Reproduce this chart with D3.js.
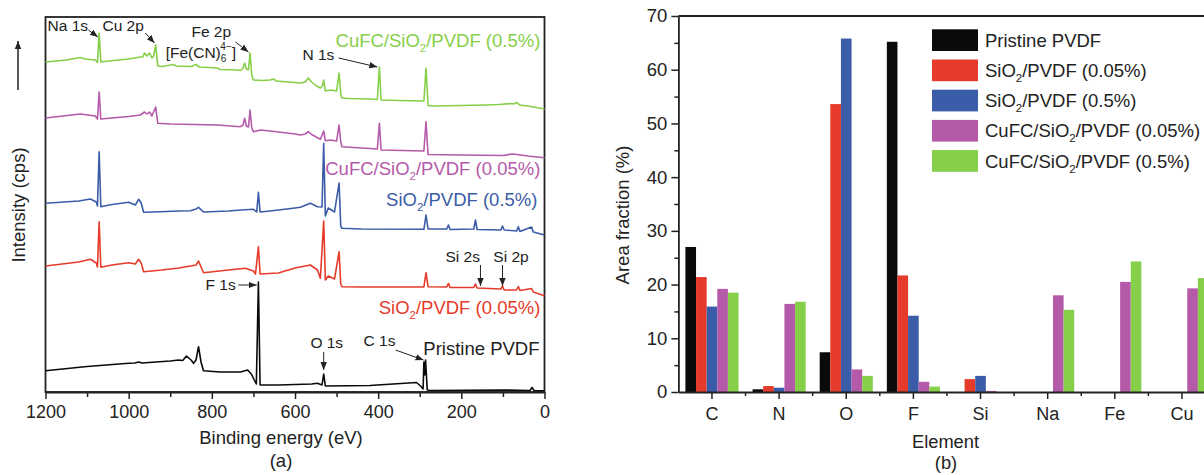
<!DOCTYPE html>
<html>
<head>
<meta charset="utf-8">
<script src="https://cdn.jsdelivr.net/npm/d3@7"></script>
<style>
  body { margin: 0; background: #fff; }
  svg { font-family: "Liberation Sans", Arial, sans-serif; }
</style>
</head>
<body>
<svg id="chart" width="1204" height="475"></svg>
<script>
// ---- panel (a): XPS survey spectra, [binding energy (eV), intensity (a.u., stacked)]
var pristineSpec = [[1200,21.3],[1100,25.5],[1000,28.7],[985,29],[976,30],[968,29],[900,31],[880,32],[870,31.5],[861,36],[850,32],[844,28.7],[838,32],[832,45.3],[826,30],[820,21.3],[780,20],[731,20],[714,22],[705,18],[698,12],[693,8],[688,110],[684,7],[640,7],[560,8],[546,8.7],[535,7],[531,18],[527,6],[420,6.5],[308,9.5],[298,6],[292,3],[290,30],[288,17],[286,32],[282,2],[275,1.5],[100,2],[35,1.5],[30,4.5],[25,1.5],[0,1.3]];
var sio2LowSpec = [[1200,126],[1120,130],[1092,132.7],[1078,129],[1075,125],[1071,170.3],[1067,124.7],[1040,127],[1000,129.3],[984,128],[976,132.7],[970,129],[964,120.3],[920,122],[880,124],[851,126],[838,127],[832,131],[820,119.3],[760,122],[719,123.7],[700,121],[695,118],[688,145.3],[684,118],[640,119],[600,124],[563,127],[546,122],[539,113.7],[531,171],[527,112],[520,116],[505,113],[494,140.3],[490,108],[487,105.3],[440,105],[290,105],[285,119.3],[280,105.3],[235,105],[231,108.7],[227,104.5],[170,104.5],[166,108],[162,104],[105,103],[101,106],[97,102],[67,102],[63,105.5],[59,101.5],[31,103.5],[27,100],[0,96.3]];
var sio2HighSpec = [[1200,188.7],[1120,191],[1092,193],[1078,190],[1075,186],[1071,240.3],[1067,185.3],[1040,187.5],[1000,189.7],[984,187],[976,192.7],[970,189],[964,179.7],[940,180],[880,181],[851,181.3],[838,183],[832,184.7],[820,180],[760,181],[730,182],[700,182.7],[692,180],[688,199.7],[684,180],[660,181],[600,184],[587,184.7],[563,188.7],[546,185.3],[535,185],[531,248.7],[527,176],[520,184],[505,180],[494,209],[490,166],[487,163.7],[440,163],[290,162.7],[285,177],[280,163],[235,163],[231,167],[227,162.5],[170,163],[166,172],[162,162.5],[105,162],[101,166],[97,162],[67,161],[63,165.3],[59,160.5],[31,165],[27,160],[0,157]];
var cufcLowSpec = [[1200,274],[1116,278],[1080,276],[1075,273],[1071,300],[1067,273],[1000,275.5],[972,277],[962,280],[956,278],[950,280],[944,276],[935,285],[930,268.7],[900,268],[786,267],[731,265.3],[725,267],[721,273.7],[717,266],[712,265],[708,282],[704,264],[700,260.3],[683,262],[660,261],[600,258],[587,257],[575,258],[568,260.3],[560,257.5],[539,252.7],[531,261],[527,251.3],[515,252],[500,251],[494,267],[490,250],[487,245.3],[420,243.5],[402,243],[397,268.7],[393,242],[290,241],[285,270.3],[280,237.5],[200,237],[100,236.5],[78,238],[66,237.5],[40,236],[0,234.3]];
var cufcHighSpec = [[1200,330],[1150,332],[1116,334.5],[1105,333],[1080,332],[1075,329.5],[1071,359],[1067,330],[1060,330.5],[1000,333],[972,335],[966,335],[962,339],[956,336],[950,339],[944,334],[940,336],[935,347],[930,326],[920,325.5],[892,327.5],[885,326],[850,325.5],[838,327.5],[830,325],[786,324],[780,322.5],[740,322],[731,321.5],[725,324],[721,329],[717,323],[712,322],[708,339],[704,317],[700,312],[680,311.5],[660,312],[652,313],[645,311],[600,309.5],[587,309],[575,310],[568,314],[560,310],[548,306],[539,304],[534,306],[531,312],[527,301],[515,302],[500,301],[494,319],[490,298],[487,294],[470,293.5],[420,293],[402,292.5],[397,325],[393,292],[350,291.5],[290,291],[285,324],[280,286.5],[270,286],[200,286.5],[140,287],[110,287.5],[78,288.5],[74,288],[66,289.5],[60,287],[40,286],[20,284.5],[0,283]];

var energyTicks = [1200, 1000, 800, 600, 400, 200, 0];
var energyMinor = [1100, 900, 700, 500, 300, 100];

// ---- panel (b): area fraction (%) per element
var elements = ["C", "N", "O", "F", "Si", "Na", "Fe", "Cu"];
var pristineFrac = [27.0, 0.5, 7.4, 65.2, 0, 0, 0, 0];
var sio2LowFrac = [21.4, 1.1, 53.6, 21.7, 2.4, 0, 0, 0];
var sio2HighFrac = [15.9, 0.8, 65.8, 14.2, 3.0, 0, 0, 0];
var cufcLowFrac = [19.2, 16.4, 4.2, 1.9, 0.2, 18.0, 20.5, 19.3];
var cufcHighFrac = [18.5, 16.8, 3.0, 1.0, 0, 15.3, 24.3, 21.2];
var fracTicks = [0, 10, 20, 30, 40, 50, 60, 70];
var fracMinor = [5, 15, 25, 35, 45, 55, 65];

var seriesNames = ["Pristine PVDF", "SiO_2/PVDF (0.05%)", "SiO_2/PVDF (0.5%)", "CuFC/SiO_2/PVDF (0.05%)", "CuFC/SiO_2/PVDF (0.5%)"];
var colors = ["#0a0a0a", "#e63b2a", "#3b5ca8", "#b55aa9", "#86cf48"];

var svg = d3.select("#chart");
var ink = "#222";

// writes "SiO_2" as SiO with a subscript 2
function richText(t, str, size) {
    var parts = str.split("_2");
    t.append("tspan").text(parts[0]);
    if (parts.length > 1) {
        t.append("tspan").attr("font-size", size * 0.62).attr("dy", 5).text("2");
        t.append("tspan").attr("dy", -5).text(parts[1]);
    }
}

function styleAxis(size) {
    return function(g) {
        g.attr("font-family", null).attr("font-size", size);
        g.selectAll("text").attr("fill", ink);
        g.selectAll("line").attr("stroke", ink).attr("stroke-width", 1.5);
        g.select(".domain").attr("stroke", ink).attr("stroke-width", 1.8);
    };
}

svg.append("defs").append("marker")
    .attr("id", "head")
    .attr("viewBox", "0 0 10 10")
    .attr("refX", 10).attr("refY", 5)
    .attr("markerWidth", 8).attr("markerHeight", 8)
    .attr("markerUnits", "userSpaceOnUse")
    .attr("orient", "auto")
    .append("path").attr("d", "M0,1 L10,5 L0,9 Z").attr("fill", ink);

/* ================= panel (a) ================= */
var xA = d3.scaleLinear().domain([1200, 0]).range([45.5, 544.5]);
var yA = d3.scaleLinear().domain([0, 375]).range([392, 17]);

var ga = svg.append("g");

ga.append("g")
    .attr("transform", "translate(0,392)")
    .call(d3.axisBottom(xA).tickValues(energyTicks).tickFormat(d3.format("d"))
        .tickSize(7).tickSizeOuter(0).tickPadding(6))
    .call(styleAxis(18));
ga.append("g")
    .attr("transform", "translate(0,392)")
    .call(d3.axisBottom(xA).tickValues(energyMinor).tickSize(5).tickFormat(""))
    .call(styleAxis(18))
    .call(function(g) { g.select(".domain").remove(); });

ga.append("rect")
    .attr("x", xA(1200)).attr("y", yA(375))
    .attr("width", xA(0) - xA(1200)).attr("height", yA(0) - yA(375))
    .attr("fill", "none").attr("stroke", ink).attr("stroke-width", 1.8);

var line = d3.line().x(function(d) { return xA(d[0]); }).y(function(d) { return yA(d[1]); });
var spectra = [pristineSpec, sio2LowSpec, sio2HighSpec, cufcLowSpec, cufcHighSpec];
ga.selectAll(".spec")
    .data(spectra)
    .enter().append("path")
    .attr("class", "spec")
    .attr("d", line)
    .attr("fill", "none")
    .attr("stroke", function(d, i) { return colors[i]; })
    .attr("stroke-width", 1.6)
    .attr("stroke-linejoin", "round");

// series names next to the curves
var specLabelPos = [[12, 37], [10, 78], [17, 186], [10, 217], [10, 345]];
specLabelPos.forEach(function(p, i) {
    var t = ga.append("text")
        .attr("x", xA(p[0])).attr("y", yA(p[1]))
        .attr("text-anchor", "end")
        .attr("font-size", 18.5)
        .attr("fill", i == 0 ? ink : colors[i]);
    richText(t, seriesNames[i], 18.5);
});

// peak assignments
var peakLabels = [
    {text: "Na 1s", be: 1195, v: 361},
    {text: "Cu 2p", be: 1063, v: 361},
    {text: "Fe 2p", be: 849, v: 355},
    {text: "N 1s", be: 582, v: 332},
    {text: "Si 2s", be: 238, v: 130},
    {text: "Si 2p", be: 123, v: 130},
    {text: "F 1s", be: 815, v: 102},
    {text: "O 1s", be: 563, v: 44},
    {text: "C 1s", be: 435, v: 46}
];
ga.selectAll(".peak")
    .data(peakLabels)
    .enter().append("text")
    .attr("class", "peak")
    .attr("x", function(d) { return xA(d.be); })
    .attr("y", function(d) { return yA(d.v); })
    .attr("font-size", 15.5)
    .attr("fill", ink)
    .text(function(d) { return d.text; });

var fe = ga.append("text")
    .attr("x", xA(911)).attr("y", yA(334))
    .attr("font-size", 15.5).attr("fill", ink);
fe.append("tspan").text("[Fe(CN)");
fe.append("tspan").attr("font-size", 10).attr("dy", 4).text("6");
fe.append("tspan").attr("font-size", 10).attr("dx", -6).attr("dy", -12).text("4\u2212");
fe.append("tspan").attr("dy", 8).text("]");

var arrows = [
    [1097, 362, 1074, 355], [960, 359, 938, 349], [743, 350, 712, 340],
    [495, 334, 402, 325], [154, 127, 154, 106], [101, 127, 101, 106],
    [736, 107, 692, 107], [531, 40, 531, 22], [358, 42, 291, 32]
];
ga.selectAll(".arrow")
    .data(arrows)
    .enter().append("line")
    .attr("class", "arrow")
    .attr("x1", function(d) { return xA(d[0]); })
    .attr("y1", function(d) { return yA(d[1]); })
    .attr("x2", function(d) { return xA(d[2]); })
    .attr("y2", function(d) { return yA(d[3]); })
    .attr("stroke", ink).attr("stroke-width", 1)
    .attr("marker-end", "url(#head)");

// intensity direction arrow
ga.append("line")
    .attr("x1", 18).attr("y1", 90).attr("x2", 18).attr("y2", 41)
    .attr("stroke", ink).attr("stroke-width", 1.5)
    .attr("marker-end", "url(#head)");

ga.append("text")
    .attr("transform", "translate(25,205) rotate(-90)")
    .attr("text-anchor", "middle").attr("font-size", 18.5).attr("fill", ink)
    .text("Intensity (cps)");
ga.append("text")
    .attr("x", 281).attr("y", 444)
    .attr("text-anchor", "middle").attr("font-size", 18.5).attr("fill", ink)
    .text("Binding energy (eV)");
ga.append("text")
    .attr("x", 281).attr("y", 467)
    .attr("text-anchor", "middle").attr("font-size", 18.5).attr("fill", ink)
    .text("(a)");

/* ================= panel (b) ================= */
var step = 67.14;
var x0 = d3.scaleBand().domain(elements).range([678.4, 678.4 + step * elements.length]);
var x1 = d3.scaleBand().domain(d3.range(seriesNames.length)).range([0, x0.bandwidth()]).paddingOuter(0.66);
var yB = d3.scaleLinear().domain([0, 70]).range([392, 16]);

var gb = svg.append("g");
var fracs = [pristineFrac, sio2LowFrac, sio2HighFrac, cufcLowFrac, cufcHighFrac];

var rows = [];
fracs.forEach(function(arr, s) {
    arr.forEach(function(v, e) { rows.push({el: elements[e], s: s, v: v}); });
});

gb.selectAll(".bar")
    .data(rows)
    .enter().append("rect")
    .attr("class", "bar")
    .attr("x", function(d) { return x0(d.el) + x1(d.s); })
    .attr("y", function(d) { return yB(d.v); })
    .attr("width", x1.bandwidth())
    .attr("height", function(d) { return yB(0) - yB(d.v); })
    .attr("fill", function(d) { return colors[d.s]; });

gb.append("g")
    .attr("transform", "translate(678.4,0)")
    .call(d3.axisLeft(yB).tickValues(fracTicks).tickSize(7).tickSizeOuter(0).tickPadding(4))
    .call(styleAxis(18.5));
gb.append("g")
    .attr("transform", "translate(678.4,0)")
    .call(d3.axisLeft(yB).tickValues(fracMinor).tickSize(4).tickFormat(""))
    .call(styleAxis(18.5))
    .call(function(g) { g.select(".domain").remove(); });

gb.append("g")
    .attr("transform", "translate(0,392)")
    .call(d3.axisBottom(x0).tickSize(7).tickSizeOuter(0).tickPadding(8))
    .call(styleAxis(18));
// minor ticks on the group boundaries
gb.selectAll(".minor")
    .data(elements.slice(1))
    .enter().append("line")
    .attr("class", "minor")
    .attr("x1", function(d) { return x0(d); }).attr("x2", function(d) { return x0(d); })
    .attr("y1", yB(0)).attr("y2", yB(0) + 4)
    .attr("stroke", ink).attr("stroke-width", 1.5);

gb.append("line")
    .attr("x1", x0.range()[0]).attr("x2", x0.range()[1])
    .attr("y1", yB(70)).attr("y2", yB(70))
    .attr("stroke", ink).attr("stroke-width", 1.8);
gb.append("line")
    .attr("x1", x0.range()[1]).attr("x2", x0.range()[1])
    .attr("y1", yB(70)).attr("y2", yB(0))
    .attr("stroke", ink).attr("stroke-width", 1.8);

// legend
var legend = gb.selectAll(".legend")
    .data(seriesNames)
    .enter().append("g")
    .attr("class", "legend")
    .attr("transform", function(d, i) { return "translate(932," + (29.3 + i * 30.2) + ")"; });
legend.append("rect")
    .attr("width", 46).attr("height", 21.7)
    .attr("fill", function(d, i) { return colors[i]; });
legend.each(function(d) {
    var t = d3.select(this).append("text")
        .attr("x", 53).attr("y", 17.5)
        .attr("font-size", 18.5).attr("fill", ink);
    richText(t, d, 18.5);
});

gb.append("text")
    .attr("transform", "translate(629,215) rotate(-90)")
    .attr("text-anchor", "middle").attr("font-size", 18.5).attr("fill", ink)
    .text("Area fraction (%)");
gb.append("text")
    .attr("x", 945.5).attr("y", 448)
    .attr("text-anchor", "middle").attr("font-size", 18.3).attr("fill", ink)
    .text("Element");
gb.append("text")
    .attr("x", 946).attr("y", 469)
    .attr("text-anchor", "middle").attr("font-size", 18.3).attr("fill", ink)
    .text("(b)");
</script>
</body>
</html>
